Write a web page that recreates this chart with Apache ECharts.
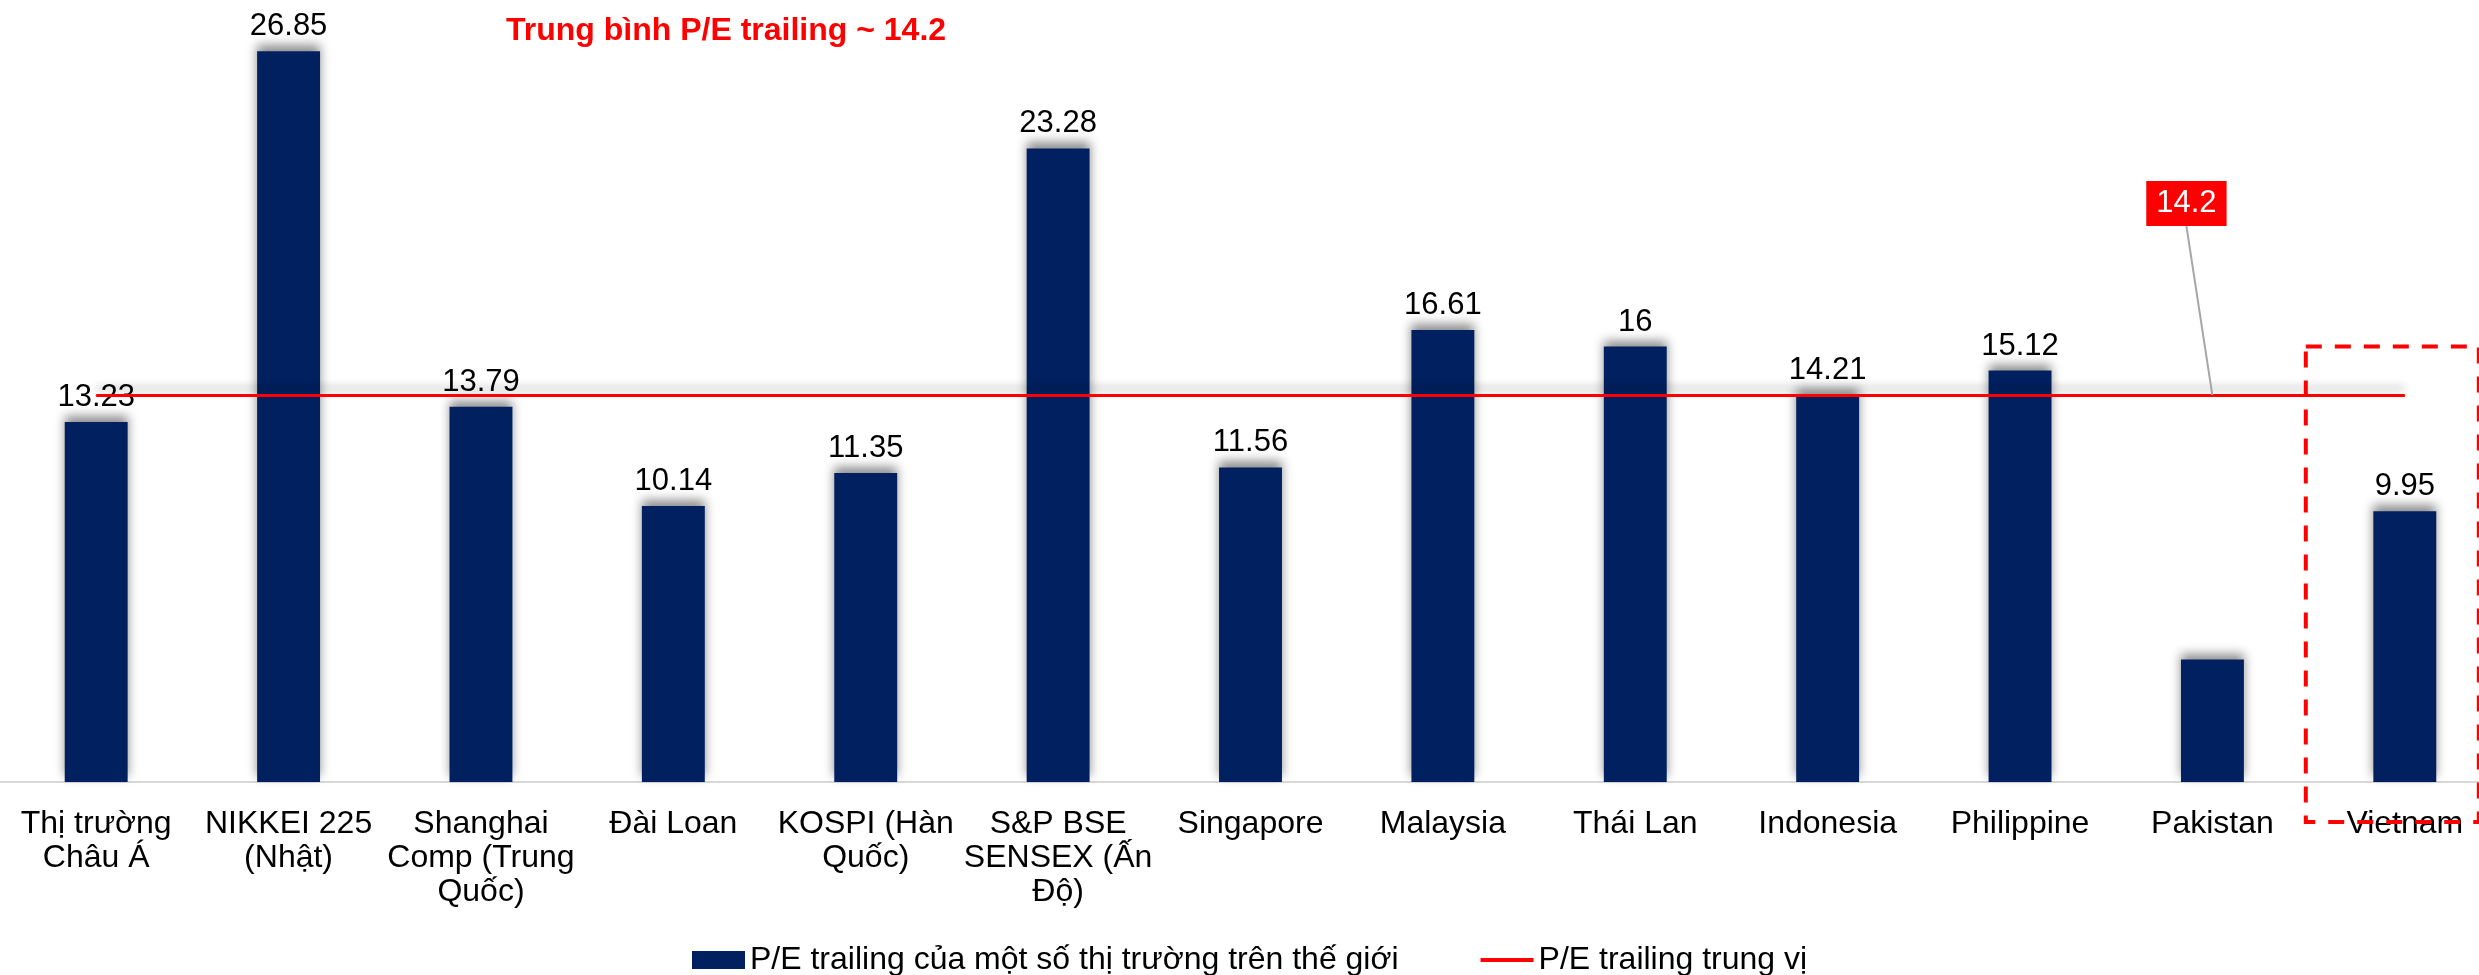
<!DOCTYPE html>
<html>
<head>
<meta charset="utf-8">
<script src="https://cdn.jsdelivr.net/npm/echarts@6/dist/echarts.min.js"></script>
<style>
  html, body { margin: 0; padding: 0; background: #fff; }
  #chart { width: 2479px; height: 975px; }
</style>
</head>
<body>
<div id="chart"></div>
<script>
// thị trường
const categories = [
  "Thị trường\nChâu Á", "NIKKEI 225\n(Nhật)", "Shanghai\nComp (Trung\nQuốc)", "Đài Loan",
  "KOSPI (Hàn\nQuốc)", "S&P BSE\nSENSEX (Ấn\nĐộ)", "Singapore", "Malaysia", "Thái Lan",
  "Indonesia", "Philippine", "Pakistan", "Vietnam"
];
// P/E trailing
const peValues = [13.23, 26.85, 13.79, 10.14, 11.35, 23.28, 11.56, 16.61, 16, 14.21, 15.12, 4.5, 9.95];
// trung vị
const medianValues = [14.2, 14.2, 14.2, 14.2, 14.2, 14.2, 14.2, 14.2, 14.2, 14.2, 14.2, 14.2, 14.2];
const hiddenLabel = ["Pakistan"];
const calloutAt = "Pakistan";
const highlight = "Vietnam";

const barName = "P/E trailing của một số thị trường trên thế giới";
const lineName = "P/E trailing trung vị";
const FONT = "'Liberation Sans', Arial, sans-serif";

const chart = echarts.init(document.getElementById("chart"));

const option = {
  backgroundColor: "#fff",
  animation: false,
  title: {
    text: "Trung bình P/E trailing ~ 14.2",
    left: 506,
    top: 15,
    padding: 0,
    textStyle: { color: "#ff0000", fontSize: 32, fontWeight: "bold", fontFamily: FONT }
  },
  legend: {
    data: [
      { name: barName, icon: "rect" },
      { name: lineName, itemStyle: { opacity: 0 }, lineStyle: { color: "#ff0000", width: 4, opacity: 1 } }
    ],
    left: 692,
    top: 944,
    padding: 0,
    itemGap: 80,
    itemWidth: 53,
    itemHeight: 18,
    textStyle: { color: "#000", fontSize: 32, fontFamily: FONT }
  },
  grid: { left: 0, top: 20, width: 2501, height: 762, outerBoundsMode: "none", containLabel: false },
  xAxis: {
    type: "category",
    data: categories,
    axisLine: { lineStyle: { color: "#d9d9d9", width: 2 } },
    axisTick: { show: false },
    axisLabel: {
      interval: 0,
      margin: 25,
      color: "#000",
      fontSize: 32,
      lineHeight: 34,
      fontFamily: FONT
    }
  },
  yAxis: {
    type: "value",
    min: 0,
    max: 28,
    show: false,
    splitLine: { show: false }
  },
  series: [
    {
      name: barName,
      type: "bar",
      barWidth: "32.7%",
      data: peValues.map((v, i) =>
        hiddenLabel.includes(categories[i]) ? { value: v, label: { show: false } } : v
      ),
      itemStyle: {
        color: "#002060",
        shadowColor: "rgba(0,0,0,0.45)",
        shadowBlur: 10,
        shadowOffsetY: -6
      },
      label: {
        show: true,
        position: "top",
        distance: 9,
        color: "#000",
        fontSize: 31,
        fontFamily: FONT
      },
      z: 2
    },
    {
      name: lineName,
      type: "line",
      data: medianValues,
      symbol: "none",
      lineStyle: {
        color: "#ff0000",
        width: 3,
        shadowColor: "rgba(0,0,0,0.3)",
        shadowBlur: 8,
        shadowOffsetY: -7
      },
      itemStyle: { color: "#ff0000" },
      z: 3
    },
    {
      // nhãn 14.2
      name: "callout",
      type: "scatter",
      symbolSize: 1,
      itemStyle: { color: "#ff0000", opacity: 1 },
      data: medianValues.map((v, i) =>
        categories[i] === calloutAt
          ? { value: v, label: { show: true }, labelLine: { show: true } }
          : v
      ),
      label: {
        show: false,
        position: "top",
        distance: 5,
        formatter: "{c}",
        backgroundColor: "#ff0000",
        color: "#fff",
        fontSize: 31,
        fontFamily: FONT,
        padding: [7, 10, 7, 10]
      },
      labelLine: { show: false, lineStyle: { color: "#a6a6a6", width: 2 } },
      labelLayout: { dx: -26, dy: -164 },
      z: 4
    }
  ]
};

chart.setOption(option);

// khung đỏ quanh Vietnam
const cx = chart.convertToPixel({ xAxisIndex: 0 }, categories.indexOf(highlight));
const yTop = chart.convertToPixel({ yAxisIndex: 0 }, 16);
const yBase = chart.convertToPixel({ yAxisIndex: 0 }, 0);
chart.setOption({
  graphic: [{
    type: "rect",
    z: 100,
    shape: { x: cx - 99, y: yTop, width: 173, height: yBase + 40 - yTop },
    style: { fill: "none", stroke: "#ff0000", lineWidth: 4, lineDash: [16, 13] }
  }]
});
</script>
</body>
</html>
